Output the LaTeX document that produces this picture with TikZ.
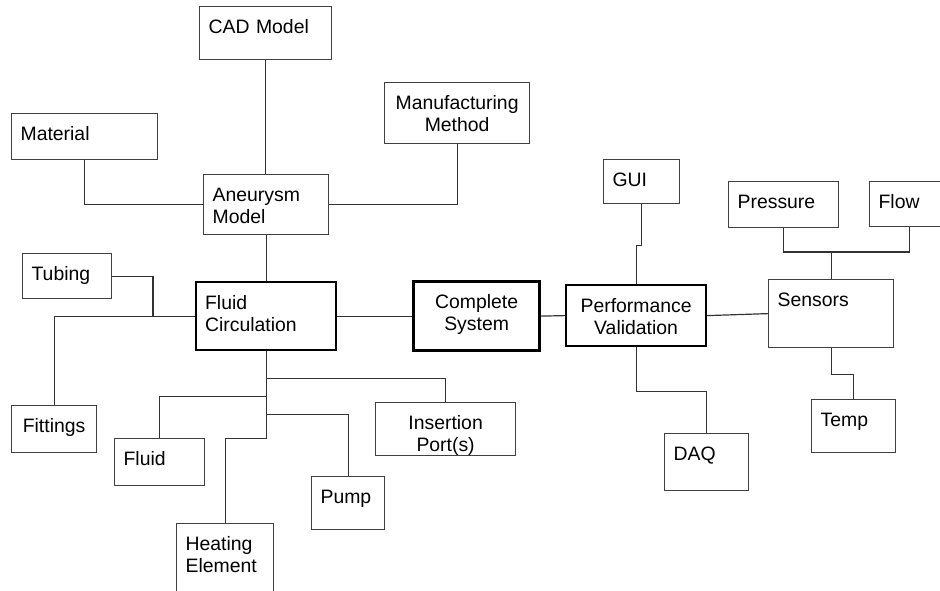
\documentclass[tikz,border=0pt]{standalone}
\usepackage{fontspec}
\setmainfont{Liberation Sans}
\usepackage{tikz}
\usetikzlibrary{positioning,calc}
\tikzset{
  link/.style={draw=black!80, line width=0.6pt},
  box/.style 2 args={draw=black!75, line width=0.6pt, anchor=north west, align=left,
    inner xsep=4.5pt, inner ysep=0pt, text width=(#1-18)*0.5pt,
    text height=13.5pt, text depth=(#2-27)*0.5pt},
  mainbox/.style={draw=black, line width=1.1pt},
  corebox/.style={draw=black, line width=1.6pt}
}
\begin{document}
\begin{tikzpicture}[x=0.5pt, y=-0.5pt, font=\fontsize{9.7pt}{11pt}\selectfont]
\clip (0,0) rectangle (940,590);

% model branch
\node[box={132}{53}] at (199,6) (cad) {CAD Model};
\node[box={146}{46}] at (11,113) (material) {Material};
\node[box={145}{61}, align=center] at (384,82) (method) {Manufacturing\\Method};
\node[box={125}{60}] at (203,174) (aneurysm) {Aneurysm\\Model};

% fluid branch
\node[box={89}{45}] at (22,253) (tubing) {Tubing};
\node[box={140}{68}, mainbox] at (195,281) (circ) {Fluid\\Circulation};
\node[box={85}{47}, align=center] at (11,405) (fittings) {Fittings};
\node[box={90}{47}] at (114,438) (fluid) {Fluid};
\node[box={97}{80}] at (176,523) (heater) {Heating\\Element};
\node[box={73}{53}] at (311,476) (pump) {Pump};
\node[box={140}{53}, align=center] at (375,402) (port) {Insertion\\Port(s)};

% centre
\node[box={126}{69}, corebox, align=center] at (412,280) (complete) {Complete\\System};

% validation branch
\node[box={140}{61}, mainbox, align=center] at (565,284) (perf) {Performance\\Validation};
\node[box={76}{44}] at (603,159) (gui) {GUI};
\node[box={84}{57}] at (664,433) (daq) {DAQ};
\node[box={125}{68}] at (768,279) (sensors) {Sensors};
\node[box={110}{46}] at (728,181) (pressure) {Pressure};
\node[box={80}{45}] at (869,181) (flow) {Flow};
\node[box={84}{53}] at (811,399) (temp) {Temp};

\coordinate (tubejoin) at ([xshift=-21pt]circ.west);
\coordinate (sensjoin) at ([yshift=13.5pt]sensors.north);

\draw[link] (cad.south) -- (cad.south |- aneurysm.north);
\draw[link] (material.south) |- (aneurysm.west);
\draw[link] (aneurysm.east) -| (method.south);
\draw[link] (aneurysm.south) -- (aneurysm.south |- circ.north);

\draw[link] (tubing.east) -| (tubejoin);
\draw[link] (circ.west) -| (fittings.north);
\draw[link] (circ.south) ++(0,27) -| (port.north);
\draw[link] (circ.south) ++(0,45) -| (fluid.north);
\draw[link] (circ.south) ++(0,63) -| (pump.north);
\draw[link] (circ.south) -- ++(0,87) -| (heater.north);

\draw[link] (circ.east) -- (complete.west);
\draw[link] (complete.east) -- (perf.west);
\draw[link] (perf.east) -- (sensors.west);

\draw[link] (gui.south) -- ++(0,41) -| (perf.north);
\draw[link] (perf.south) -- ++(0,44) -| (daq.north);
\draw[link] (pressure.south) |- (sensjoin) -| (flow.south);
\draw[link] (sensjoin) -- (sensors.north);
\draw[link] (sensors.south) -- ++(0,26) -| (temp.north);
\end{tikzpicture}
\end{document}
